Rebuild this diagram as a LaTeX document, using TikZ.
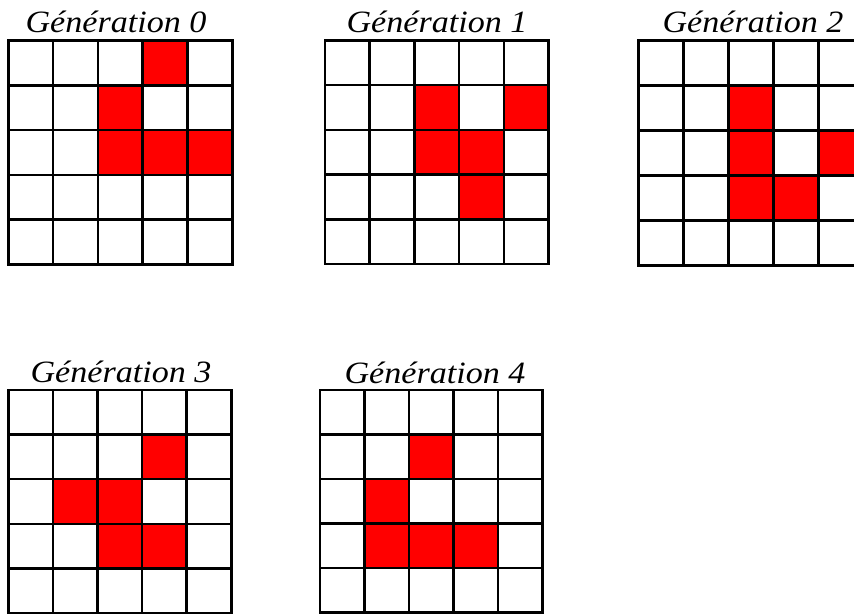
\documentclass[tikz,border=0pt]{standalone}
\usepackage{fontspec}
\setmainfont{Liberation Serif}
\tikzset{
  livecell/.style={fill=red},
  gridline/.style={draw=black,line width=2.5pt,line cap=rect},
  genlabel/.style={anchor=base,inner sep=0pt,xscale=1.1,font=\fontsize{31}{33}\selectfont\itshape}
}
% #1 name, #2 x0, #3 y0, #4 cell, #5 live cells r/c, #6 label x, #7 label baseline, #8 text
\newcommand\lifegrid[8]{%
  \begin{scope}[shift={(#2,#3)}]
    \foreach \r/\c in {#5} \fill[livecell] (\c*#4,\r*#4) rectangle ++(#4,#4);
    \foreach \i in {0,...,5} {
      \draw[gridline] (\i*#4,0) -- (\i*#4,5*#4);
      \draw[gridline] (0,\i*#4) -- (5*#4,\i*#4);
    }
  \end{scope}
  \node[genlabel] (#1) at (#6,#7) {#8};
}
\begin{document}
\begin{tikzpicture}[x=1pt,y=-1pt]
  \clip (0,0) rectangle (854,615);
  \fill[white] (0,0) rectangle (854,615);
  \lifegrid{g0}{8.3}{40.5}{44.8}{0/3,1/2,2/2,2/3,2/4}{116}{33}{Génération 0}
  \lifegrid{g1}{325}{40.5}{44.7}{1/2,1/4,2/2,2/3,3/3}{437}{33}{Génération 1}
  \lifegrid{g2}{638.5}{40.5}{45}{1/2,2/2,2/4,3/2,3/3}{753}{33}{Génération 2}
  \lifegrid{g3}{8.3}{390}{44.6}{1/3,2/1,2/2,3/2,3/3}{121}{382}{Génération 3}
  \lifegrid{g4}{320}{390}{44.5}{1/2,2/1,3/1,3/2,3/3}{435}{383}{Génération 4}
\end{tikzpicture}
\end{document}
